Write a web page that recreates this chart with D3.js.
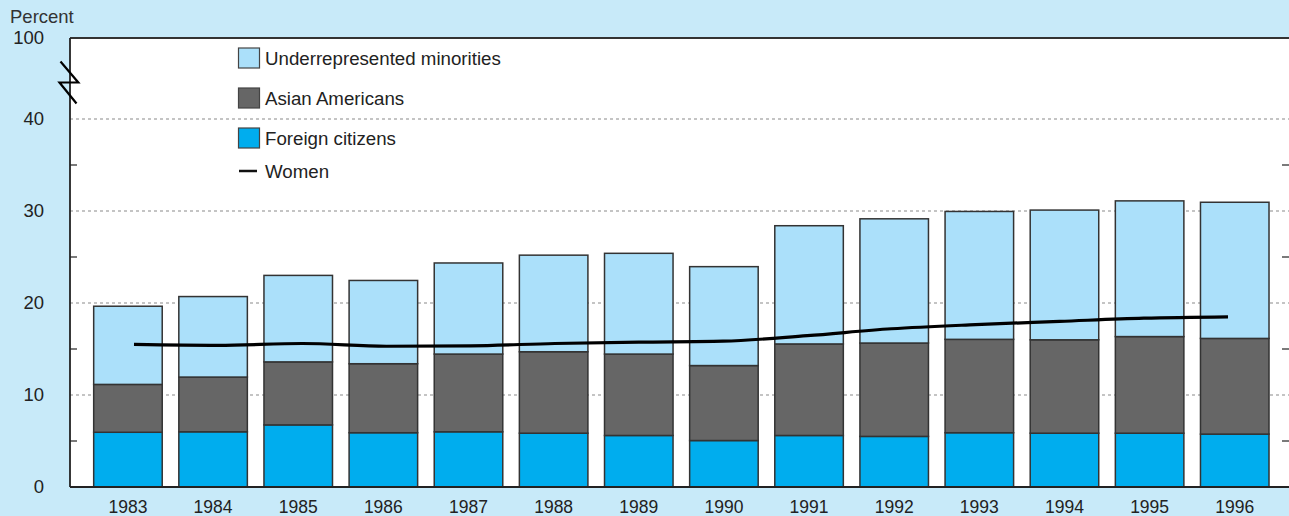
<!DOCTYPE html>
<html><head><meta charset="utf-8">
<script src="https://cdn.jsdelivr.net/npm/d3@7"></script>
<style>
html,body{margin:0;padding:0;background:#c8eaf9;}
svg{display:block;font-family:"Liberation Sans",Arial,Helvetica,sans-serif;}
</style></head>
<body><svg id="c" width="1289" height="516"></svg>
<script>
const years = ["1983","1984","1985","1986","1987","1988","1989","1990","1991","1992","1993","1994","1995","1996"];
const foreignCitizens = [5.95,6.0,6.75,5.9,6.0,5.85,5.6,5.05,5.6,5.5,5.9,5.85,5.85,5.75];
const asianAmericans = [5.2,5.95,6.85,7.5,8.45,8.85,8.85,8.15,9.95,10.15,10.15,10.15,10.5,10.4];
const underrepresented = [8.5,8.75,9.4,9.05,9.9,10.5,10.95,10.75,12.85,13.5,13.9,14.1,14.75,14.8];
const women = [15.5,15.4,15.6,15.3,15.35,15.6,15.75,15.85,16.45,17.2,17.65,18.0,18.35,18.5];
const yTickValues = [0,10,20,30,40,100];
const yMinorTicks = [5,15,25,35];
const gridValues = [10,20,30,40];
const seriesNames = ["Underrepresented minorities","Asian Americans","Foreign citizens"];

const colors = {"Foreign citizens":"#00adee","Asian Americans":"#666666","Underrepresented minorities":"#abe0fa"};
const svg = d3.select("#c");
const L = 70, R = 1289, T = 38, B = 487;

const y = d3.scaleLinear().domain([0,40,100]).range([B,119,T]);
const x = d3.scaleBand().domain(years).range([72.4,1290.3]).paddingInner(0.195).paddingOuter(0.25);
const xLine = d3.scalePoint().domain(years).range([134,1228]);

svg.append("rect").attr("x",L).attr("y",T).attr("width",R-L).attr("height",B-T).attr("fill","#fff");

svg.append("g").selectAll("line").data(gridValues).join("line")
  .attr("x1",L).attr("x2",R).attr("y1",d=>y(d)).attr("y2",d=>y(d))
  .attr("stroke","#8a8a8a").attr("stroke-width",1.2).attr("stroke-dasharray","3,3");

const rows = years.map((yr,i)=>({year:yr,"Foreign citizens":foreignCitizens[i],"Asian Americans":asianAmericans[i],"Underrepresented minorities":underrepresented[i]}));
const stack = d3.stack().keys(["Foreign citizens","Asian Americans","Underrepresented minorities"]);
const layers = stack(rows);
svg.append("g").selectAll("g").data(layers).join("g")
  .attr("fill",d=>colors[d.key])
  .selectAll("rect").data(d=>d).join("rect")
  .attr("x",d=>x(d.data.year)).attr("width",x.bandwidth())
  .attr("y",d=>y(d[1])).attr("height",d=>y(d[0])-y(d[1]))
  .attr("stroke","#333").attr("stroke-width",1.5);

svg.append("path").datum(women)
  .attr("fill","none").attr("stroke","#000").attr("stroke-width",3.2)
  .attr("d",d3.line().x((d,i)=>xLine(years[i])).y(d=>y(d)).curve(d3.curveMonotoneX));

svg.append("g").selectAll("line").data(yMinorTicks).join("line")
  .attr("x1",L).attr("x2",L+7).attr("y1",d=>y(d)).attr("y2",d=>y(d)).attr("stroke","#222").attr("stroke-width",1.2);
svg.append("g").selectAll("line").data(yMinorTicks).join("line")
  .attr("x1",R-7).attr("x2",R).attr("y1",d=>y(d)).attr("y2",d=>y(d)).attr("stroke","#222").attr("stroke-width",1.2);

svg.append("line").attr("x1",L).attr("x2",R).attr("y1",T).attr("y2",T).attr("stroke","#333").attr("stroke-width",1.8);
svg.append("line").attr("x1",L).attr("x2",L).attr("y1",T).attr("y2",B).attr("stroke","#222").attr("stroke-width",1.8);
svg.append("line").attr("x1",L).attr("x2",R).attr("y1",B).attr("y2",B).attr("stroke","#222").attr("stroke-width",1.8);

svg.append("g").selectAll("text").data(yTickValues).join("text")
  .attr("x",44).attr("y",d=>y(d)).attr("dy","0.35em").attr("text-anchor","end")
  .attr("font-size",18.5).attr("fill","#222").text(d=>d);

const brk = [[60.5,61.5],[78.3,82.5],[59.5,82.5],[76.5,103.5]];
svg.append("path").attr("d",d3.line()(brk)).attr("fill","none").attr("stroke","#000").attr("stroke-width",2.2);

svg.append("g").selectAll("text").data(years).join("text")
  .attr("x",d=>x(d)+x.bandwidth()/2).attr("y",512.5).attr("text-anchor","middle")
  .attr("font-size",17.5).attr("fill","#222").text(d=>d);

svg.append("text").attr("x",10).attr("y",17).attr("dy","0.35em").attr("font-size",18.5).attr("fill","#333").text("Percent");

const lg = svg.append("g");
seriesNames.forEach((name,i)=>{
  const cy = 58 + i*40;
  lg.append("rect").attr("x",238.5).attr("y",cy-10).attr("width",21).attr("height",20)
    .attr("fill",colors[name]).attr("stroke","#444").attr("stroke-width",1.2);
  lg.append("text").attr("x",265).attr("y",cy).attr("dy","0.35em").attr("font-size",18.7).attr("fill","#222").text(name);
});
lg.append("line").attr("x1",239).attr("x2",257).attr("y1",171).attr("y2",171).attr("stroke","#111").attr("stroke-width",2.5);
lg.append("text").attr("x",265).attr("y",171).attr("dy","0.35em").attr("font-size",18.7).attr("fill","#222").text("Women");
</script></body></html>
